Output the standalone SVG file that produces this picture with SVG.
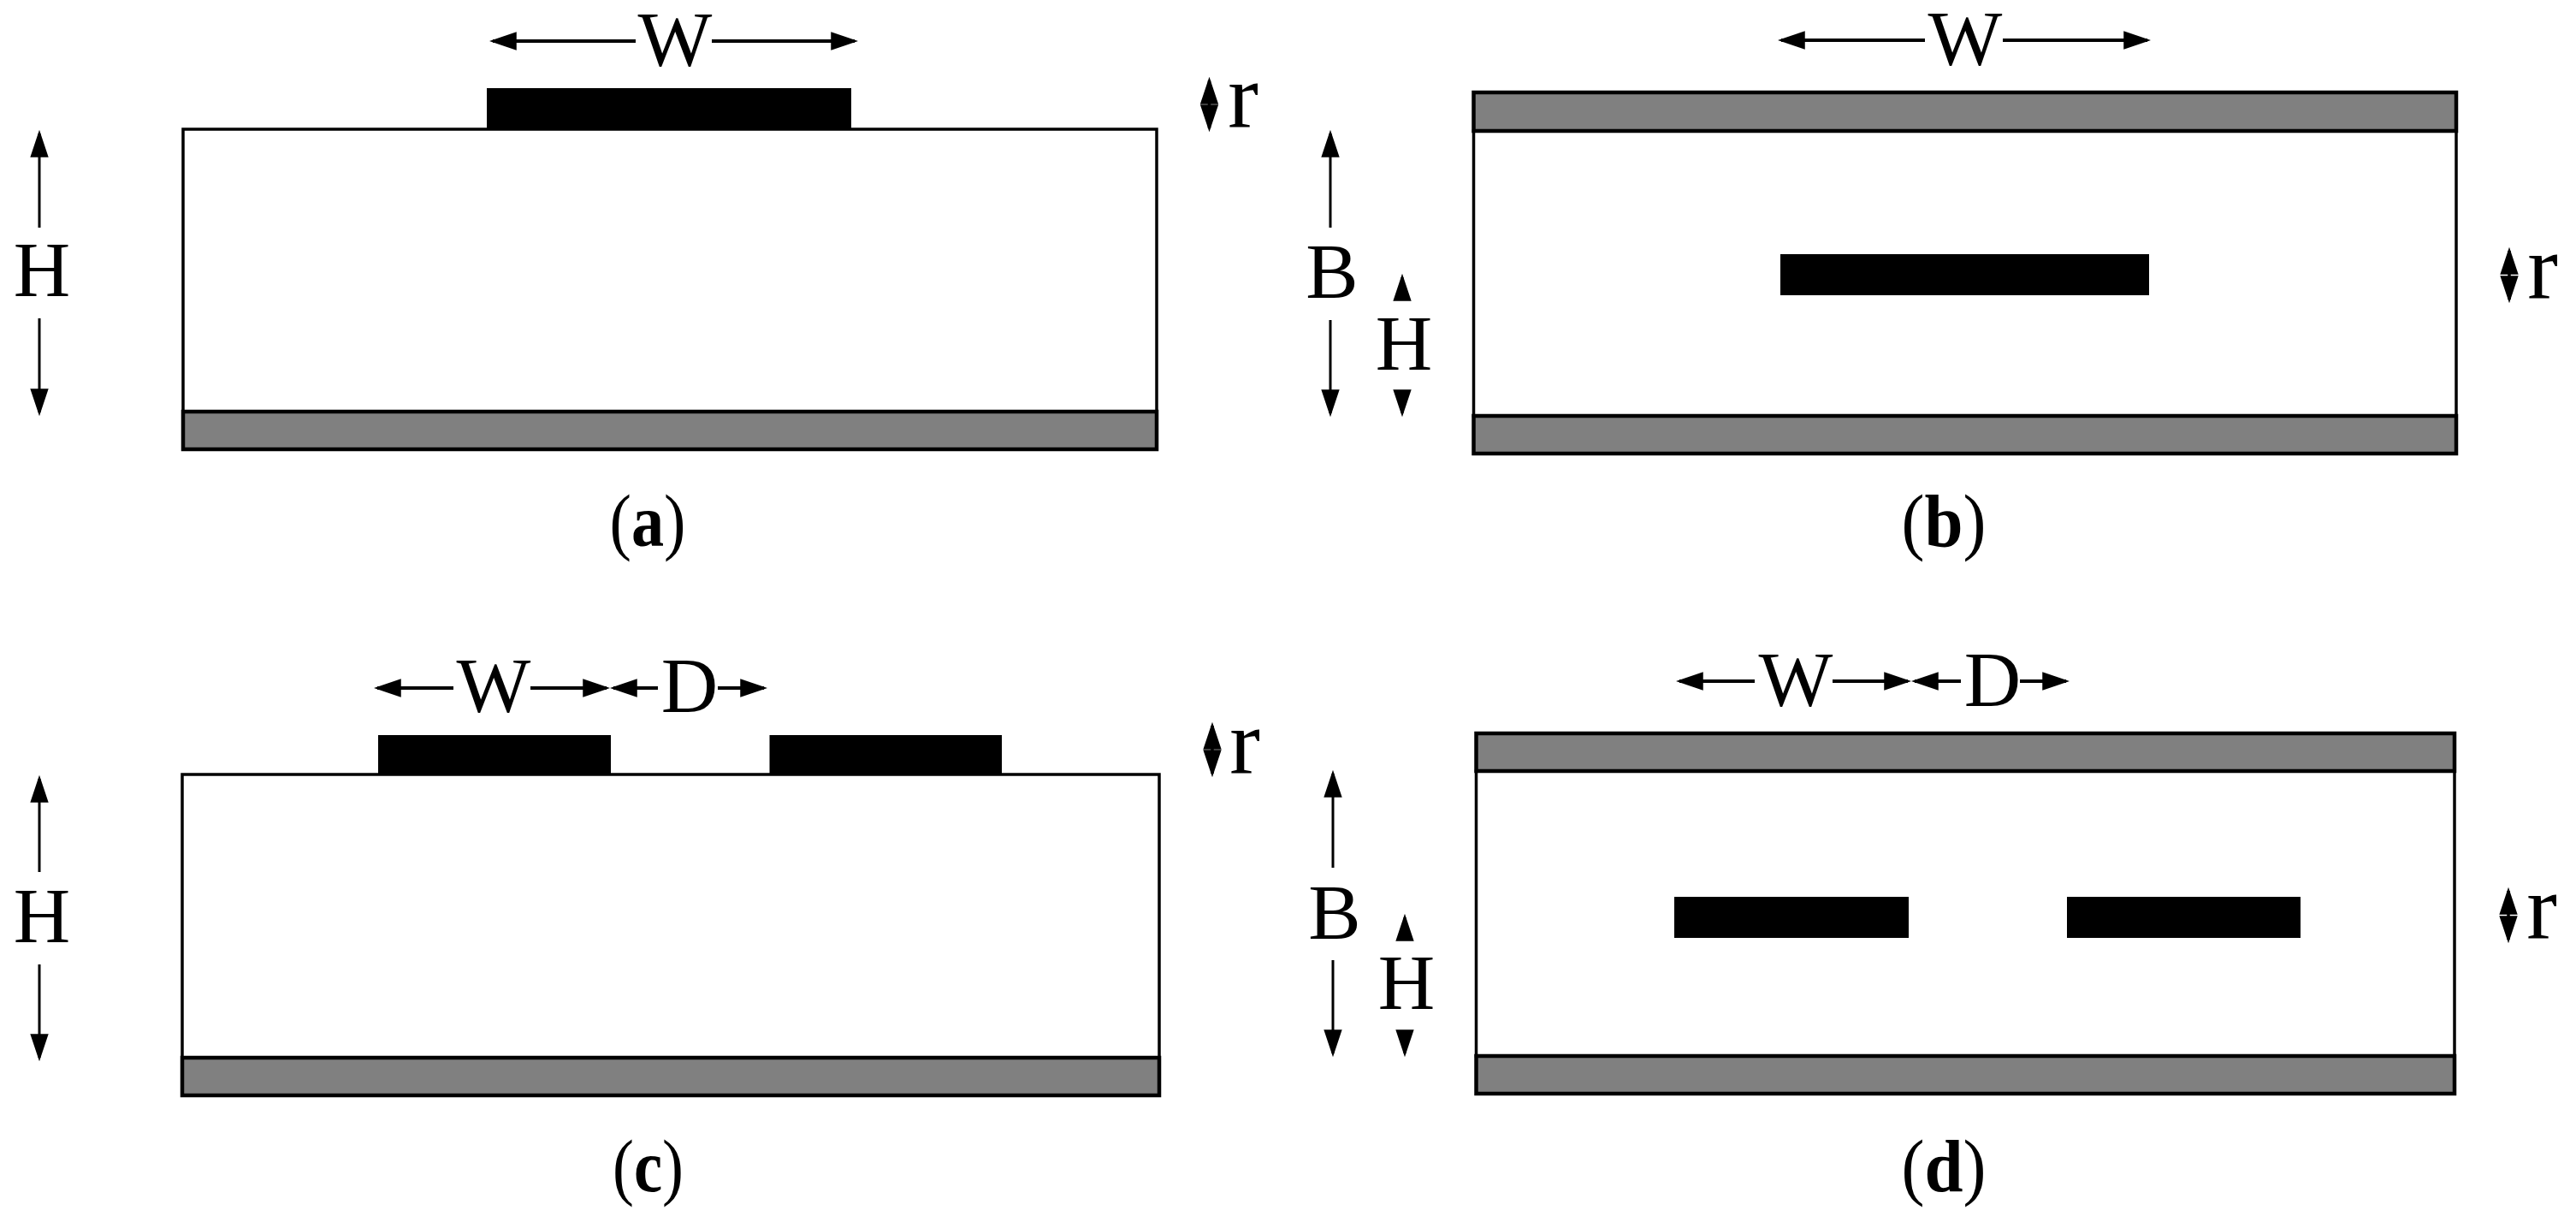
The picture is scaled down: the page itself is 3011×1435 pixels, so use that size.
<svg xmlns="http://www.w3.org/2000/svg" width="3011" height="1435" viewBox="0 0 3011 1435">
<style>
text{font-family:"Liberation Serif","Times New Roman",serif;fill:#000;text-anchor:middle}
.l{font-size:92px}
.r{font-size:107px}
.c{font-size:86px}
.c tspan{font-weight:bold}
.sub{fill:#fff;stroke:#000;stroke-width:3.5}
.gnd{fill:#808080;stroke:#000;stroke-width:4.5}
.cond{fill:#000}
.a{stroke:#000;stroke-width:3;fill:none;marker-end:url(#h)}
.w{stroke-width:4}
.b{stroke:#000;stroke-width:3.500;fill:none;marker-start:url(#h);marker-end:url(#h)}
</style>
<defs>
<marker id="h" markerUnits="userSpaceOnUse" markerWidth="32" markerHeight="22" viewBox="0 0 30 20" refX="26" refY="10" orient="auto-start-reverse"><path d="M0,0L30,10L0,20z" fill="#000"/></marker>
</defs>
<rect width="3011" height="1435" fill="#fff"/>
<g id="panel-a">
<rect class="sub" x="214" y="151" width="1138" height="330"/>
<rect class="gnd" x="214" y="481" width="1138" height="44"/>
<rect class="cond" x="569" y="103" width="426" height="49"/>
<text class="l" x="789" y="77">W</text>
<text class="r" x="1453" y="149">r</text>
<text class="l" x="49" y="346">H</text>
<text class="c" x="757" y="638" textLength="89" lengthAdjust="spacingAndGlyphs">(<tspan>a</tspan>)</text>
</g>
<g id="panel-b">
<rect class="sub" x="1722.5" y="153" width="1148.5" height="333"/>
<rect class="gnd" x="1722.5" y="108" width="1148.5" height="45"/>
<rect class="gnd" x="1722.5" y="486" width="1148.5" height="44"/>
<rect class="cond" x="2081" y="297" width="431" height="48"/>
<text class="l" x="2297" y="76">W</text>
<text class="r" x="2972" y="349">r</text>
<text class="l" x="1557" y="348">B</text>
<text class="l" x="1641" y="432">H</text>
<text class="c" x="2272" y="638" textLength="99" lengthAdjust="spacingAndGlyphs">(<tspan>b</tspan>)</text>
</g>
<g id="panel-c">
<rect class="sub" x="213" y="905" width="1142" height="331"/>
<rect class="gnd" x="213" y="1236" width="1142" height="44"/>
<rect class="cond" x="442" y="859" width="272" height="47"/>
<rect class="cond" x="899.5" y="859" width="271.5" height="47"/>
<text class="l" x="577" y="832">W</text>
<text class="l" x="806" y="832">D</text>
<text class="r" x="1455" y="904">r</text>
<text class="l" x="49" y="1101">H</text>
<text class="c" x="757.500" y="1392" textLength="83" lengthAdjust="spacingAndGlyphs">(<tspan>c</tspan>)</text>
</g>
<g id="panel-d">
<rect class="sub" x="1725.5" y="901" width="1143.5" height="333"/>
<rect class="gnd" x="1725.5" y="857" width="1143.500" height="44"/>
<rect class="gnd" x="1725.500" y="1234" width="1143.500" height="44"/>
<rect class="cond" x="1957" y="1048" width="274" height="48"/>
<rect class="cond" x="2416" y="1048" width="273" height="48"/>
<text class="l" x="2099" y="825">W</text>
<text class="l" x="2329" y="825">D</text>
<text class="r" x="2971" y="1097">r</text>
<text class="l" x="1560" y="1097">B</text>
<text class="l" x="1644" y="1179">H</text>
<text class="c" x="2272" y="1392" textLength="99" lengthAdjust="spacingAndGlyphs">(<tspan>d</tspan>)</text>
</g>
<g id="connectors">
<path class="a w" d="M743,48H576"/>
<path class="a w" d="M832,48H999"/>
<path class="b" d="M1413.500,94V150"/>
<path class="a" d="M46,266V156"/>
<path class="a" d="M46,372V482"/>
<path class="a w" d="M2250,47H2082"/>
<path class="a w" d="M2341,47H2510"/>
<path class="b" d="M2933,293V350"/>
<path class="a" d="M1555,266V156"/>
<path class="a" d="M1555,374V483"/>
<path class="a" d="M1639,349V324"/>
<path class="a" d="M1639,458V483"/>
<path class="a w" d="M530,804H441"/>
<path class="a w" d="M620,804H709"/>
<path class="a w" d="M769,804H717"/>
<path class="a w" d="M839,804H893"/>
<path class="b" d="M1417,848V904"/>
<path class="a" d="M46,1019V910"/>
<path class="a" d="M46,1127V1236"/>
<path class="a w" d="M2051,796H1963"/>
<path class="a w" d="M2142,796H2230"/>
<path class="a w" d="M2292,796H2238"/>
<path class="a w" d="M2361,796H2415"/>
<path class="b" d="M2932,1041V1098"/>
<path class="a" d="M1558,1014V904"/>
<path class="a" d="M1558,1122V1231"/>
<path class="a" d="M1642,1097V1072"/>
<path class="a" d="M1642,1206V1231"/>
</g>
</svg>
